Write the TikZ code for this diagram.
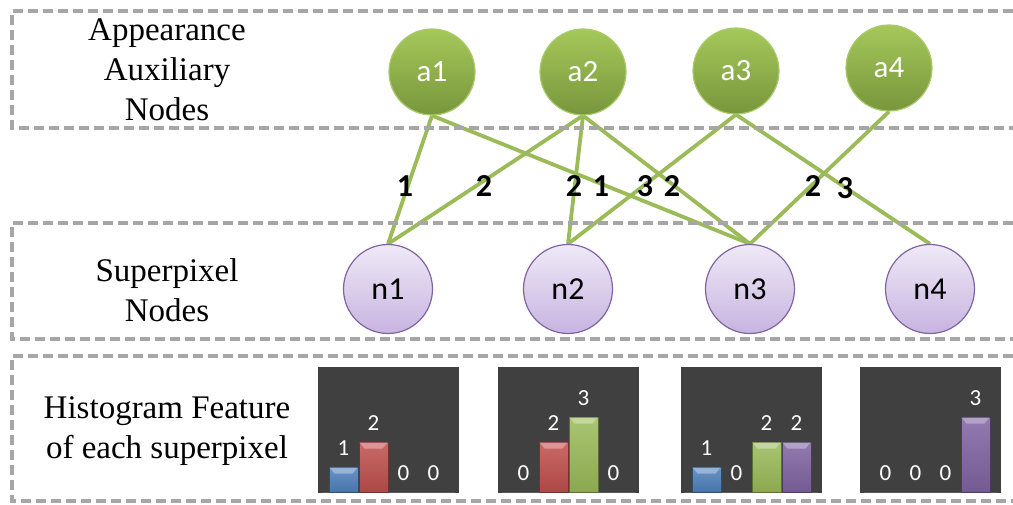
\documentclass[tikz,border=0pt]{standalone}
\usepackage{fontspec}
\setmainfont{Liberation Serif}
\newfontfamily\carl{Carlito}
\usetikzlibrary{backgrounds}
\definecolor{boxgray}{HTML}{A6A6A6}
\definecolor{edgegreen}{HTML}{9BBB59}
\definecolor{gtop}{HTML}{A5C85A}
\definecolor{gbot}{HTML}{78963C}
\definecolor{gborder}{HTML}{A9CB6B}
\definecolor{ptop}{HTML}{EFE9F7}
\definecolor{pbot}{HTML}{C7B4E0}
\definecolor{pborder}{HTML}{8064A2}
\definecolor{histbg}{HTML}{404040}
\definecolor{hblue}{HTML}{4F81BD}
\definecolor{hred}{HTML}{C0504D}
\definecolor{hgreen}{HTML}{9BBB59}
\definecolor{hpurple}{HTML}{8064A2}
\tikzset{
  dbox/.style={draw=boxgray, line width=3.2pt, dash pattern=on 10pt off 5pt},
  anode/.style={circle, minimum size=86pt, inner sep=0pt, top color=gtop, bottom color=gbot, draw=gborder, line width=1.2pt, text=white, font=\carl\fontsize{31}{33}\selectfont},
  nnode/.style={circle, minimum size=89pt, inner sep=0pt, top color=ptop, bottom color=pbot, draw=pborder, line width=1.2pt, text=black, font=\carl\fontsize{32}{34}\selectfont},
  link/.style={draw=edgegreen, line width=3.8pt},
  wlabel/.style={font=\carl\bfseries\fontsize{32}{34}\selectfont, text=black, inner sep=0pt},
  sidetext/.style={align=center, font=\fontsize{33}{40}\selectfont, inner sep=0pt},
  hnum/.style={font=\carl\fontsize{23}{25}\selectfont, text=white, inner sep=0pt},
}
\begin{document}
\begin{tikzpicture}[x=1pt, y=-1pt]
\useasboundingbox (0,0) rectangle (1013,505);
% dashed bands
\draw[dbox] (1013,11) -- (12,11) -- (12,128) -- (1013,128);
\draw[dbox] (1013,223) -- (12,223) -- (12,339) -- (1013,339);
\draw[dbox] (1013,356) -- (12,356) -- (12,501) -- (1013,501);
% side texts
\node[sidetext] (t1) at (167,70) {Appearance\\Auxiliary\\Nodes};
\node[sidetext] (t2) at (167,290) {Superpixel\\Nodes};
\node[sidetext] (t3) at (167,431) {Histogram Feature\\of each superpixel};
% nodes
\node[anode] (a1) at (432,72) {a1};
\node[anode] (a2) at (583,72) {a2};
\node[anode] (a3) at (736,71) {a3};
\node[anode] (a4) at (889,68) {a4};
\node[nnode] (n1) at (388,289) {n1};
\node[nnode] (n2) at (568,289) {n2};
\node[nnode] (n3) at (750,289) {n3};
\node[nnode] (n4) at (930,289) {n4};
% links
\begin{scope}[on background layer]
\draw[link] (a1.south) -- (n1.north);
\draw[link] (a1.south) -- (n3.north);
\draw[link] (a2.south) -- (n1.north);
\draw[link] (a2.south) -- (n2.north);
\draw[link] (a2.south) -- (n3.north);
\draw[link] (a3.south) -- (n2.north);
\draw[link] (a3.south) -- (n4.north);
\draw[link] (a4.south) -- (n3.north);
\end{scope}
% link weights
\node[wlabel] (w1) at (405,186) {1};
\node[wlabel] (w2) at (484,186) {2};
\node[wlabel] (w3) at (574,186) {2};
\node[wlabel] (w4) at (601,186) {1};
\node[wlabel] (w5) at (645,186) {3};
\node[wlabel] (w6) at (672,186) {2};
\node[wlabel] (w7) at (813,186) {2};
\node[wlabel] (w8) at (845,188) {3};
% histograms
\foreach \k/\L/\va/\vb/\vc/\vd in {1/318/1/2/0/0, 2/498/0/2/3/0, 3/681/1/0/2/2, 4/860/0/0/0/3}{
  \fill[histbg] (\L,367) rectangle ++(141,126);
  \draw[gray!70!black, line width=0.8pt] (\L+4,492) -- ++(133,0);
  \foreach \i/\v/\c in {0/\va/hblue, 1/\vb/hred, 2/\vc/hgreen, 3/\vd/hpurple}{
    \pgfmathsetmacro{\bx}{\L+11+30*\i}
    \pgfmathsetmacro{\by}{492-25*\v}
    \ifnum\v>0
      \shade[top color=\c!85!white, bottom color=\c!90!black, draw=\c!60!black, line width=0.6pt] (\bx,\by) rectangle ++(29,25*\v);
      \fill[\c!60!white] (\bx+0.5,\by+0.5) -- ++(28,0) -- ++(-5,6) -- ++(-18,0) -- cycle;
    \fi
    \node[hnum] (h\k\i) at (\bx+14.5,\by-19) {\v};
  }
}
\end{tikzpicture}
\end{document}
